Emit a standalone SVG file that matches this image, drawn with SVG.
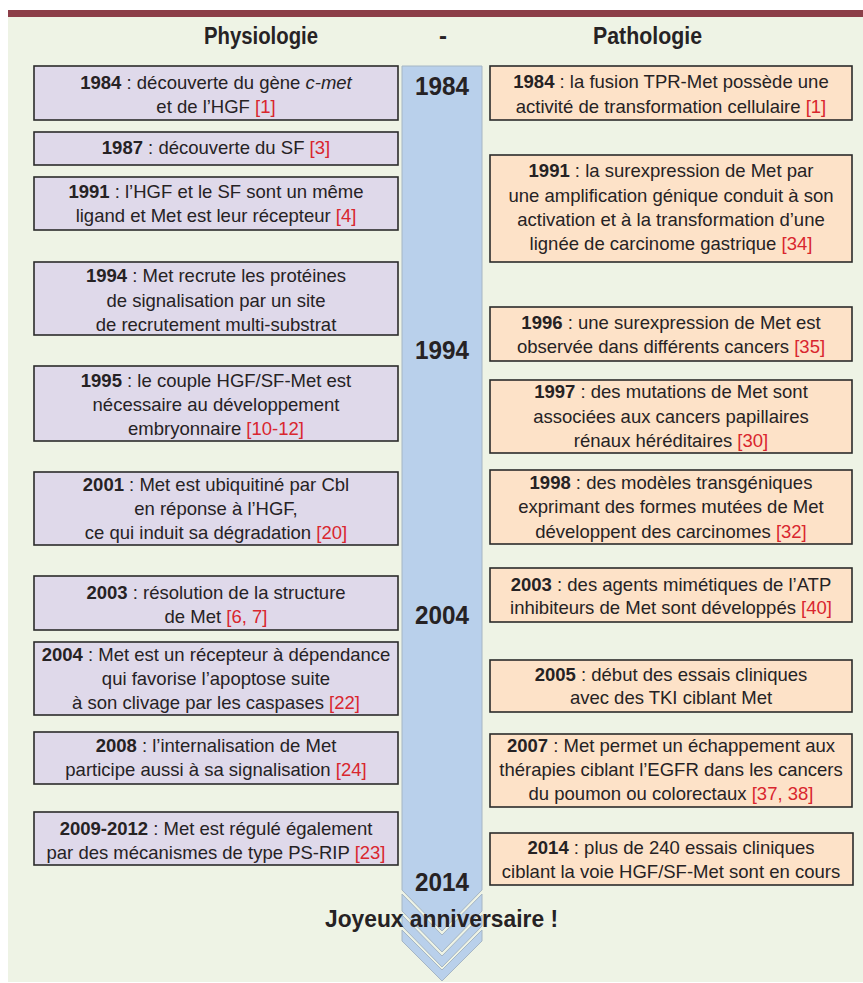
<svg xmlns="http://www.w3.org/2000/svg" width="863" height="983" viewBox="0 0 863 983">
<style>
.bg{fill:#eef3e5}
.top{fill:#8c3e48}
.lb{fill:#dfd9ea;stroke:#2b2b2b;stroke-width:1.6}
.rb{fill:#fde2c8;stroke:#2b2b2b;stroke-width:1.6}
.bar{fill:#b9d0eb;stroke:#a6b6c4;stroke-width:1}
text{font-family:"Liberation Sans",Arial,sans-serif;fill:#262224}
.t{font-size:18.5px;text-anchor:middle}
.b{font-weight:bold}
.r{fill:#d9262e}
.i{font-style:italic}
.h{font-size:23px;font-weight:bold}
.y{font-size:25px;font-weight:bold;text-anchor:middle}
</style>
<rect class="top" x="8" y="10" width="855" height="7"/>
<rect class="bg" x="8" y="17" width="855" height="965"/>
<g id="headers">
<text class="h" x="204" y="44" textLength="114" lengthAdjust="spacingAndGlyphs">Physiologie</text>
<text class="h" x="439" y="44" textLength="8" lengthAdjust="spacingAndGlyphs">-</text>
<text class="h" x="593" y="44" textLength="109" lengthAdjust="spacingAndGlyphs">Pathologie</text>
</g>
<g id="timeline">
<polygon class="bar" points="402,66 482,66 482,890 442,931 402,890"/>
<polygon class="bar" points="402,894 442,935 482,894 482,911 442,952 402,911"/>
<polygon class="bar" points="402,915 442,956 482,915 482,926 442,967 402,926"/>
<polygon class="bar" points="402,930 442,970 482,930 482,941 442,981 402,941"/>
<text class="y" x="442" y="95" textLength="54" lengthAdjust="spacingAndGlyphs">1984</text>
<text class="y" x="442" y="359" textLength="54" lengthAdjust="spacingAndGlyphs">1994</text>
<text class="y" x="442" y="624" textLength="54" lengthAdjust="spacingAndGlyphs">2004</text>
<text class="y" x="442" y="891" textLength="54" lengthAdjust="spacingAndGlyphs">2014</text>
</g>
<g id="L1984"><rect class="lb" x="34" y="66" width="364" height="54"/>
<text class="t" x="216" y="89"><tspan class="b">1984</tspan> : découverte du gène <tspan class="i">c-met</tspan></text>
<text class="t" x="216" y="113">et de l’HGF <tspan class="r">[1]</tspan></text></g>
<g id="L1987"><rect class="lb" x="34" y="132" width="364" height="33"/>
<text class="t" x="216" y="154"><tspan class="b">1987</tspan> : découverte du SF <tspan class="r">[3]</tspan></text></g>
<g id="L1991"><rect class="lb" x="34" y="177" width="364" height="53"/>
<text class="t" x="216" y="198"><tspan class="b">1991</tspan> : l’HGF et le SF sont un même</text>
<text class="t" x="216" y="222">ligand et Met est leur récepteur <tspan class="r">[4]</tspan></text></g>
<g id="L1994"><rect class="lb" x="34" y="262" width="364" height="73"/>
<text class="t" x="216" y="282"><tspan class="b">1994</tspan> : Met recrute les protéines</text>
<text class="t" x="216" y="307">de signalisation par un site</text>
<text class="t" x="216" y="331">de recrutement multi-substrat</text></g>
<g id="L1995"><rect class="lb" x="34" y="366" width="364" height="75"/>
<text class="t" x="216" y="387"><tspan class="b">1995</tspan> : le couple HGF/SF-Met est</text>
<text class="t" x="216" y="411">nécessaire au développement</text>
<text class="t" x="216" y="435">embryonnaire <tspan class="r">[10-12]</tspan></text></g>
<g id="L2001"><rect class="lb" x="34" y="472" width="364" height="73"/>
<text class="t" x="216" y="491"><tspan class="b">2001</tspan> : Met est ubiquitiné par Cbl</text>
<text class="t" x="216" y="515">en réponse à l’HGF,</text>
<text class="t" x="216" y="539">ce qui induit sa dégradation <tspan class="r">[20]</tspan></text></g>
<g id="L2003"><rect class="lb" x="34" y="576" width="364" height="54"/>
<text class="t" x="216" y="599"><tspan class="b">2003</tspan> : résolution de la structure</text>
<text class="t" x="216" y="623">de Met <tspan class="r">[6, 7]</tspan></text></g>
<g id="L2004"><rect class="lb" x="34" y="642" width="364" height="73"/>
<text class="t" x="216" y="661"><tspan class="b">2004</tspan> : Met est un récepteur à dépendance</text>
<text class="t" x="216" y="685">qui favorise l’apoptose suite</text>
<text class="t" x="216" y="709">à son clivage par les caspases <tspan class="r">[22]</tspan></text></g>
<g id="L2008"><rect class="lb" x="34" y="732" width="364" height="52"/>
<text class="t" x="216" y="752"><tspan class="b">2008</tspan> : l’internalisation de Met</text>
<text class="t" x="216" y="776">participe aussi à sa signalisation <tspan class="r">[24]</tspan></text></g>
<g id="L2009"><rect class="lb" x="34" y="812" width="364" height="53"/>
<text class="t" x="216" y="835"><tspan class="b">2009-2012</tspan> : Met est régulé également</text>
<text class="t" x="216" y="859">par des mécanismes de type PS-RIP <tspan class="r">[23]</tspan></text></g>
<g id="R1984"><rect class="rb" x="490" y="66" width="362" height="54"/>
<text class="t" x="671" y="88"><tspan class="b">1984</tspan> : la fusion TPR-Met possède une</text>
<text class="t" x="671" y="113">activité de transformation cellulaire <tspan class="r">[1]</tspan></text></g>
<g id="R1991"><rect class="rb" x="490" y="155" width="362" height="107"/>
<text class="t" x="671" y="177"><tspan class="b">1991</tspan> : la surexpression de Met par</text>
<text class="t" x="671" y="202">une amplification génique conduit à son</text>
<text class="t" x="671" y="226">activation et à la transformation d’une</text>
<text class="t" x="671" y="250">lignée de carcinome gastrique <tspan class="r">[34]</tspan></text></g>
<g id="R1996"><rect class="rb" x="490" y="307" width="362" height="54"/>
<text class="t" x="671" y="329"><tspan class="b">1996</tspan> : une surexpression de Met est</text>
<text class="t" x="671" y="353">observée dans différents cancers <tspan class="r">[35]</tspan></text></g>
<g id="R1997"><rect class="rb" x="490" y="380" width="362" height="73"/>
<text class="t" x="671" y="398"><tspan class="b">1997</tspan> : des mutations de Met sont</text>
<text class="t" x="671" y="423">associées aux cancers papillaires</text>
<text class="t" x="671" y="447">rénaux héréditaires <tspan class="r">[30]</tspan></text></g>
<g id="R1998"><rect class="rb" x="490" y="470" width="362" height="74"/>
<text class="t" x="671" y="489"><tspan class="b">1998</tspan> : des modèles transgéniques</text>
<text class="t" x="671" y="513">exprimant des formes mutées de Met</text>
<text class="t" x="671" y="538">développent des carcinomes <tspan class="r">[32]</tspan></text></g>
<g id="R2003"><rect class="rb" x="490" y="568" width="362" height="54"/>
<text class="t" x="671" y="591"><tspan class="b">2003</tspan> : des agents mimétiques de l’ATP</text>
<text class="t" x="671" y="614">inhibiteurs de Met sont développés <tspan class="r">[40]</tspan></text></g>
<g id="R2005"><rect class="rb" x="490" y="660" width="362" height="52"/>
<text class="t" x="671" y="681"><tspan class="b">2005</tspan> : début des essais cliniques</text>
<text class="t" x="671" y="704">avec des TKI ciblant Met</text></g>
<g id="R2007"><rect class="rb" x="490" y="734" width="362" height="73"/>
<text class="t" x="671" y="752"><tspan class="b">2007</tspan> : Met permet un échappement aux</text>
<text class="t" x="671" y="776">thérapies ciblant l’EGFR dans les cancers</text>
<text class="t" x="671" y="800">du poumon ou colorectaux <tspan class="r">[37, 38]</tspan></text></g>
<g id="R2014"><rect class="rb" x="490" y="833" width="363" height="52"/>
<text class="t" x="671" y="854"><tspan class="b">2014</tspan> : plus de 240 essais cliniques</text>
<text class="t" x="671" y="878">ciblant la voie HGF/SF-Met sont en cours</text></g>
<g id="footer">
<text class="h" x="325" y="927" style="font-size:24px" textLength="233" lengthAdjust="spacingAndGlyphs">Joyeux anniversaire !</text>
</g>
</svg>
